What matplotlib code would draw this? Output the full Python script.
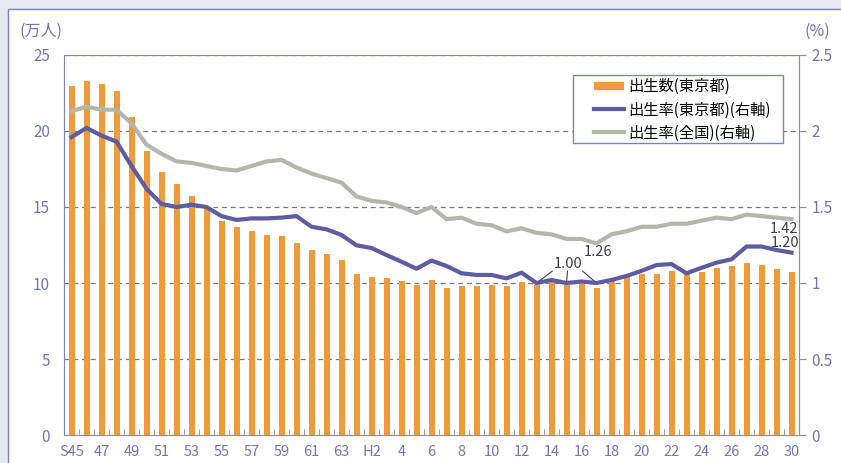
import matplotlib
matplotlib.use("Agg")
import matplotlib.pyplot as plt
from matplotlib.lines import Line2D
from matplotlib.patches import Rectangle
import numpy as np

plt.rcParams['font.family'] = ['Noto Sans CJK JP', 'DejaVu Sans']

# ---- data ----
years = ["S45", "S46", "S47", "S48", "S49", "S50", "S51", "S52", "S53", "S54",
         "S55", "S56", "S57", "S58", "S59", "S60", "S61", "S62", "S63", "H1",
         "H2", "H3", "H4", "H5", "H6", "H7", "H8", "H9", "H10", "H11",
         "H12", "H13", "H14", "H15", "H16", "H17", "H18", "H19", "H20", "H21",
         "H22", "H23", "H24", "H25", "H26", "H27", "H28", "H29", "H30"]
tick_labels = ["S45", "47", "49", "51", "53", "55", "57", "59", "61", "63", "H2",
               "4", "6", "8", "10", "12", "14", "16", "18", "20", "22", "24",
               "26", "28", "30"]
births_tokyo = [22.96, 23.27, 23.1, 22.6, 20.94, 18.7, 17.33, 16.5, 15.7, 15.0,
                14.06, 13.7, 13.4, 13.18, 13.1, 12.65, 12.2, 11.9, 11.5, 10.6,
                10.4, 10.3, 10.1, 9.9, 10.2, 9.7, 9.8, 9.8, 9.9, 9.8,
                10.04, 9.9, 10.05, 9.9, 10.0, 9.65, 10.1, 10.4, 10.6, 10.6,
                10.8, 10.6, 10.7, 11.0, 11.1, 11.3, 11.2, 10.9, 10.7]
rate_tokyo = [1.96, 2.02, 1.97, 1.93, 1.77, 1.62, 1.52, 1.50, 1.515, 1.50,
              1.44, 1.415, 1.425, 1.425, 1.43, 1.44, 1.37, 1.353, 1.316, 1.248,
              1.23, 1.184, 1.14, 1.094, 1.147, 1.112, 1.064, 1.053, 1.053, 1.03,
              1.068, 1.00, 1.02, 1.00, 1.01, 1.00, 1.02, 1.046, 1.08, 1.118,
              1.125, 1.064, 1.10, 1.134, 1.156, 1.24, 1.24, 1.217, 1.20]
rate_japan = [2.13, 2.16, 2.14, 2.14, 2.05, 1.91, 1.85, 1.80, 1.79, 1.77,
              1.75, 1.74, 1.77, 1.80, 1.81, 1.76, 1.72, 1.69, 1.66, 1.57,
              1.54, 1.53, 1.50, 1.46, 1.50, 1.42, 1.43, 1.39, 1.38, 1.34,
              1.36, 1.33, 1.32, 1.29, 1.29, 1.26, 1.32, 1.34, 1.37, 1.37,
              1.39, 1.39, 1.41, 1.43, 1.42, 1.45, 1.44, 1.43, 1.42]
legend_labels = ["出生数(東京都)", "出生率(東京都)(右軸)", "出生率(全国)(右軸)"]

# ---- style ----
C_BAR = "#F19A38"
C_TOKYO = "#5D5BA3"
C_JAPAN = "#B4B6AE"
C_TXT = "#7474B8"
C_NUM = "#404040"
FS = 10.5

W, H = 841, 463
fig = plt.figure(figsize=(W / 100, H / 100), dpi=100)
fig.patch.set_facecolor("#E3E7F0")
fig.patches.append(Rectangle((8 / W, -0.1), 1.1, 1 - 9 / H + 0.1, transform=fig.transFigure,
                             facecolor="white", edgecolor="#7F7FB8", linewidth=1.0, zorder=-10))

ax = fig.add_axes([64 / W, (H - 435) / H, (799 - 64) / W, (435 - 55) / H])
ax.set_facecolor("none")
x = np.arange(len(years))
ax.bar(x, births_tokyo, width=0.4, color=C_BAR, zorder=2)
ax.set_xlim(-0.5, len(years) - 0.5)
ax.set_ylim(0, 25)
ax.set_yticks([0, 5, 10, 15, 20, 25])
ax.yaxis.grid(True, linestyle=(0, (4, 3)), color="#7A7A7A", linewidth=0.9, zorder=1)
ax.set_axisbelow(True)
ax.tick_params(axis='y', length=0, labelsize=FS + 0.5, labelcolor=C_TXT, pad=10)
ax.set_xticks(x[::2])
ax.set_xticklabels(tick_labels)
ax.set_xticks(np.arange(-0.5, len(years), 1), minor=True)
ax.tick_params(axis='x', which='major', length=0, labelsize=FS, labelcolor=C_TXT, pad=7.5)
ax.tick_params(axis='x', which='minor', direction='in', length=4, color="#909090")
for s in ['left', 'top']:
    ax.spines[s].set_color("#8080C0")
for s in ['right', 'bottom']:
    ax.spines[s].set_color("#909090")

ax2 = ax.twinx()
ax2.plot(x, rate_japan, color=C_JAPAN, linewidth=3, zorder=3)
ax2.plot(x, rate_tokyo, color=C_TOKYO, linewidth=3, zorder=4)
ax2.set_ylim(0, 2.5)
ax2.set_yticks([0, 0.5, 1, 1.5, 2, 2.5])
ax2.set_yticklabels(["0", "0.5", "1", "1.5", "2", "2.5"])
ax2.tick_params(axis='y', length=5, color="#909090", labelsize=FS + 0.5, labelcolor=C_TXT, pad=4)
ax2.spines['right'].set_color("#909090")
ax2.spines['left'].set_visible(False)
ax2.spines['top'].set_visible(False)
ax2.spines['bottom'].set_visible(False)

fig.text(41 / W, 1 - 31 / H, "(万人)", color=C_TXT, fontsize=FS + 1, ha='center', va='center')
fig.text(817 / W, 1 - 31 / H, "(%)", color=C_TXT, fontsize=FS + 1, ha='center', va='center')

# annotations
i13, i15, i17 = years.index("H13"), years.index("H15"), years.index("H17")
ax2.annotate("1.00", xy=(i15, rate_tokyo[i15]), xytext=(2, 19), textcoords='offset pixels',
             ha='center', va='center', fontsize=FS, color=C_NUM)
for idx, off in [(i13, (16, 12)), (i15, (1, 12)), (i17, (-14, 12))]:
    ax2.annotate("", xy=(idx, rate_tokyo[idx]), xytext=off, textcoords='offset pixels',
                 arrowprops=dict(arrowstyle='-', color="#404040", lw=0.8, shrinkA=0, shrinkB=0))
ax2.annotate(f"{rate_japan[i17]:.2f}", xy=(i17, rate_japan[i17]), xytext=(2, -9),
             textcoords='offset pixels', ha='center', va='center', fontsize=FS, color=C_NUM)
last = len(years) - 1
ax2.annotate(f"{rate_japan[last]:.2f}", xy=(last, rate_japan[last]), xytext=(-7, -10),
             textcoords='offset pixels', ha='center', va='center', fontsize=FS, color=C_NUM)
ax2.annotate(f"{rate_tokyo[last]:.2f}", xy=(last, rate_tokyo[last]), xytext=(-6, 10),
             textcoords='offset pixels', ha='center', va='center', fontsize=FS, color=C_NUM)

# legend box + frameless legend
box = Rectangle((0.6925, 0.7684), 0.9782 - 0.6925, 0.9474 - 0.7684, transform=ax2.transAxes,
                facecolor="white", edgecolor="#8080C0", linewidth=1.0, zorder=5)
ax2.add_patch(box)
handles = [Line2D([], [], color=C_BAR, lw=6, solid_capstyle='butt'),
           Line2D([], [], color=C_TOKYO, lw=3),
           Line2D([], [], color=C_JAPAN, lw=3)]
leg = ax2.legend(handles, legend_labels, loc='upper left', bbox_to_anchor=(0.7211, 0.9395),
                 borderaxespad=0, frameon=False, fontsize=FS + 0.5,
                 handlelength=1.95, handletextpad=0.27, labelspacing=0.42, borderpad=0)
leg.set_zorder(6)

fig.savefig("out.png", dpi=100, facecolor=fig.get_facecolor())
